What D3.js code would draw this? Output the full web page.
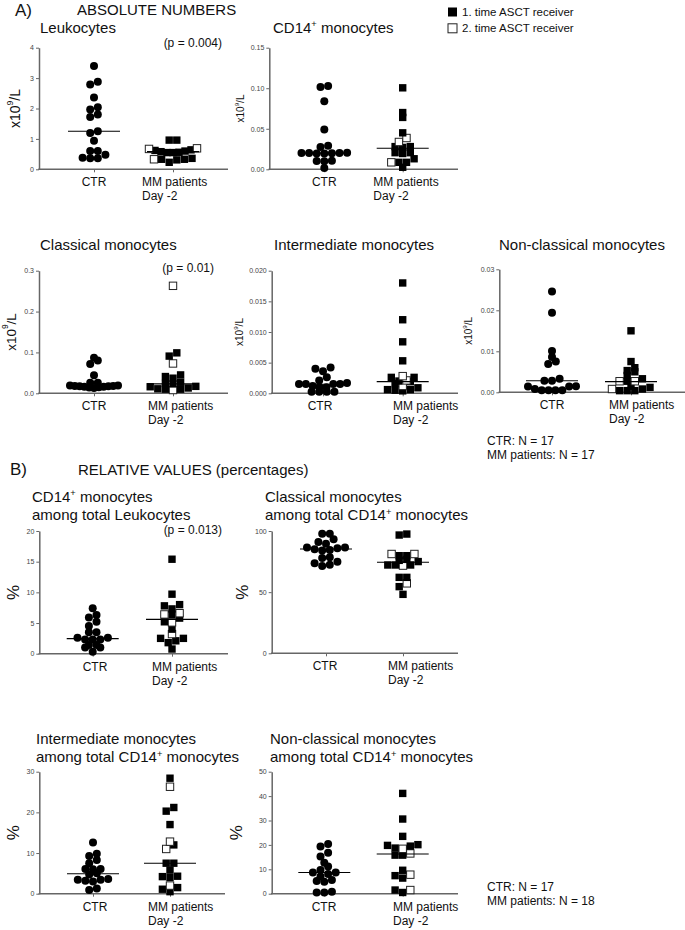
<!DOCTYPE html>
<html><head><meta charset="utf-8">
<script src="https://cdn.jsdelivr.net/npm/d3@7"></script>
<style>
body{margin:0;background:#fff}
svg{display:block}
text{font-family:"Liberation Sans",Arial,Helvetica,sans-serif;fill:#111}
</style></head>
<body><svg id="c" width="685" height="930"></svg>
<script>
// ---------------- DATA ----------------
const groups = ["CTR", "MM patients"];
const groupLine2 = "Day -2";

// A) absolute numbers
const leukoTicks = [0, 1, 2, 3, 4];
const leukoCTR = [3.40, 2.88, 2.79, 2.36, 2.04, 1.97, 1.80, 1.72, 1.25, 1.19, 0.94, 0.60, 0.60, 0.48, 0.38, 0.36, 0.36];
const leukoMM1 = [0.96, 0.96, 0.64, 0.62, 0.60, 0.58, 0.56, 0.55, 0.55, 0.36, 0.33, 0.33, 0.31, 0.23];
const leukoMM2 = [0.69, 0.67, 0.33];
const leukoMedian = [1.25, 0.58];

const cd14Ticks = [0, 0.05, 0.10, 0.15];
const cd14CTR = [0.1027, 0.1015, 0.084, 0.049, 0.029, 0.0275, 0.0205, 0.0202, 0.0200, 0.0200, 0.0198, 0.0196, 0.0195, 0.0105, 0.0102, 0.0098, 0.0015];
const cd14MM1 = [0.1005, 0.070, 0.064, 0.045, 0.028, 0.028, 0.027, 0.0205, 0.0205, 0.0195, 0.013, 0.0086, 0.0086, 0.0025];
const cd14MM2 = [0.0386, 0.0337, 0.0086];
const cd14Median = [0.020, 0.026];

const clasTicks = [0, 0.1, 0.2, 0.3];
const clasCTR = [0.087, 0.080, 0.072, 0.044, 0.026, 0.026, 0.019, 0.019, 0.018, 0.018, 0.017, 0.017, 0.016, 0.016, 0.015, 0.014, 0.013];
const clasMM1 = [0.099, 0.091, 0.045, 0.041, 0.037, 0.027, 0.024, 0.023, 0.017, 0.016, 0.013, 0.011, 0.010, 0.010];
const clasMM2 = [0.263, 0.073, 0.008];
const clasMedian = [0.017, 0.023];

const interTicks = [0, 0.005, 0.010, 0.015, 0.020];
const interCTR = [0.0042, 0.0040, 0.0036, 0.0026, 0.0021, 0.0017, 0.0015, 0.0015, 0.0015, 0.0015, 0.0012, 0.0010, 0.0010, 0.00025, 0.00025, 0.00025, 0.00025];
const interMM1 = [0.018, 0.012, 0.0084, 0.0053, 0.0026, 0.0026, 0.0020, 0.0019, 0.0016, 0.0009, 0.0006, 0.0006, 0.0005, 0.0004];
const interMM2 = [0.0028, 0.0021, 0.0012];
const interMedian = [0.00147, 0.0019];

const nonTicks = [0, 0.01, 0.02, 0.03];
const nonCTR = [0.0246, 0.0194, 0.0101, 0.0086, 0.0075, 0.0069, 0.0033, 0.0028, 0.0028, 0.0015, 0.0014, 0.0014, 0.0008, 0.0005, 0.0005, 0.0005, 0.0005];
const nonMM1 = [0.015, 0.0075, 0.006, 0.0053, 0.005, 0.0041, 0.0033, 0.0027, 0.0015, 0.0012, 0.0008, 0.0004, 0.0004, 0.0004];
const nonMM2 = [0.0027, 0.0027, 0.0008];
const nonMedian = [0.0028, 0.0026];

// B) relative values (percentages)
const leuPctTicks = [0, 5, 10, 15, 20];
const leuPctCTR = [7.4, 6.3, 5.9, 5.2, 4.5, 3.5, 3.5, 2.6, 2.6, 2.3, 2.3, 2.3, 1.4, 1.4, 1.0, 1.0, 0.3];
const leuPctMM1 = [15.4, 9.7, 8.0, 7.8, 7.3, 6.4, 5.8, 5.2, 4.0, 2.5, 2.5, 2.1, 1.8, 0.76];
const leuPctMM2 = [6.6, 6.4, 5.1, 3.2];
const leuPctMedian = [2.45, 5.6];

const clasPctTicks = [0, 50, 100];
const clasPctCTR = [97.8, 97.8, 93.2, 91.0, 89.6, 86.6, 86.6, 85.8, 85.0, 84.5, 84.0, 78.5, 78.0, 74.8, 73.6, 72.5, 71.4];
const clasPctMM1 = [97.5, 96.7, 79.8, 79.8, 76.8, 76.0, 75.0, 72.2, 72.2, 72.2, 62.1, 62.1, 54.5, 48.2];
const clasPctMM2 = [81.2, 81.2, 71.7, 57.2];
const clasPctMedian = [85.3, 74.4];

const interPctTicks = [0, 10, 20, 30];
const interPctCTR = [12.6, 9.8, 9.3, 8.3, 7.5, 6.1, 6.1, 6.0, 5.0, 4.7, 3.6, 3.4, 3.4, 3.2, 3.0, 1.3, 0.9];
const interPctMM1 = [28.4, 21.2, 20.3, 17.0, 12.0, 7.5, 7.5, 5.8, 4.3, 4.2, 4.0, 1.5, 1.1, 0.5];
const interPctMM2 = [26.3, 12.8, 11.0, 2.0];
const interPctMedian = [4.9, 7.5];

const nonPctTicks = [0, 10, 20, 30, 40, 50];
const nonPctCTR = [20.4, 19.3, 16.8, 15.2, 12.7, 11.1, 9.7, 8.7, 8.7, 8.1, 7.0, 5.6, 5.2, 4.9, 0.8, 0.5, 0.5];
const nonPctMM1 = [41.1, 30.6, 23.5, 20.1, 19.8, 19.5, 18.7, 15.8, 15.8, 9.6, 7.4, 6.4, 1.5, 0.5];
const nonPctMM2 = [18.4, 16.5, 7.8, 1.5];
const nonPctMedian = [8.7, 16.3];

const legendLabels = ["1. time ASCT receiver", "2. time ASCT receiver"];

// ---------------- LAYOUT ----------------
const svg = d3.select("#c");
const AX = "#666";

function rich(t, str, size) {
  const parts = str.split(/(\^.)/);
  let up = false;
  parts.forEach(p => {
    if (!p) return;
    if (p[0] === "^") {
      t.append("tspan").text(p[1]).style("font-size", (size * 0.62) + "px").attr("dy", -size * 0.38);
      up = true;
    } else {
      const ts = t.append("tspan").text(p);
      if (up) { ts.attr("dy", size * 0.38); up = false; }
    }
  });
}

function swarm(items, y, thr, d, maxW) {
  const s = items.map(o => ({ ...o, py: y(o.v) }))
    .sort((a, b) => (b.py - a.py) || (a.open - b.open));
  const rows = []; let cur = null;
  s.forEach(o => {
    if (!cur || cur[0].py - o.py > thr) { cur = [o]; rows.push(cur); } else cur.push(o);
  });
  rows.forEach(r => {
    const n = r.length;
    const sp = n > 1 ? Math.min(d, maxW / (n - 1)) : 0;
    const pos = [];
    if (n % 2) { pos.push(0); for (let k = 1; pos.length < n; k++) { pos.push(-k * sp); if (pos.length < n) pos.push(k * sp); } }
    else { for (let k = 0; pos.length < n; k++) { pos.push(-(k + 0.5) * sp); pos.push((k + 0.5) * sp); } }
    r.forEach((o, i) => o.dx = pos[i]);
  });
  return s;
}

const panels = [
  { ctr: leukoCTR, mm1: leukoMM1, mm2: leukoMM2, med: leukoMedian, ticks: leukoTicks, fmt: d3.format("d"),
    axisX: 39, axisEnd: 228, yTop: 47.7, yBot: 169.3, ctrX: 94, mmX: 173, ctrLab: 94, mmLab: 142,
    title: ["Leukocytes"], tx: 40, ty: 33, ylab: "x10^9/L", ylx: 15, yls: 14, p: "(p = 0.004)", px: 222, py: 47 },
  { ctr: cd14CTR, mm1: cd14MM1, mm2: cd14MM2, med: cd14Median, ticks: cd14Ticks, fmt: d3.format(".2f"),
    axisX: 269.3, axisEnd: 458, yTop: 47.7, yBot: 169.3, ctrX: 324.3, mmX: 402.7, ctrLab: 324.3, mmLab: 373.3,
    title: ["CD14^+ monocytes"], tx: 273, ty: 33, ylab: "x10^9/L", ylx: 240, yls: 10 },
  { ctr: clasCTR, mm1: clasMM1, mm2: clasMM2, med: clasMedian, ticks: clasTicks, fmt: d3.format(".1f"),
    axisX: 39, axisEnd: 228, yTop: 270.7, yBot: 393.3, ctrX: 94, mmX: 173, ctrLab: 94, mmLab: 148,
    title: ["Classical monocytes"], tx: 40, ty: 250, ylab: "x10^9/L", ylx: 10.5, yls: 13.5, p: "(p = 0.01)", px: 214, py: 272 },
  { ctr: interCTR, mm1: interMM1, mm2: interMM2, med: interMedian, ticks: interTicks, fmt: d3.format(".3f"),
    axisX: 271.7, axisEnd: 458, yTop: 270.7, yBot: 393.3, ctrX: 323, mmX: 402.7, ctrLab: 320, mmLab: 393,
    title: ["Intermediate monocytes"], tx: 274, ty: 250, ylab: "x10^9/L", ylx: 239, yls: 10 },
  { ctr: nonCTR, mm1: nonMM1, mm2: nonMM2, med: nonMedian, ticks: nonTicks, fmt: d3.format(".2f"),
    axisX: 499.3, axisEnd: 685, yTop: 269.3, yBot: 392.3, ctrX: 552, mmX: 631, ctrLab: 552, mmLab: 609,
    title: ["Non-classical monocytes"], tx: 499, ty: 250, ylab: "x10^9/L", ylx: 468, yls: 10 },
  { ctr: leuPctCTR, mm1: leuPctMM1, mm2: leuPctMM2, med: leuPctMedian, ticks: leuPctTicks, fmt: d3.format("d"),
    axisX: 39.3, axisEnd: 228, yTop: 531, yBot: 653.7, ctrX: 92.7, mmX: 172, ctrLab: 95, mmLab: 152,
    title: ["CD14^+ monocytes", "among total Leukocytes"], tx: 32, ty: 502, ylab: "%", ylx: 12.5, yls: 17, p: "(p = 0.013)", px: 222, py: 534 },
  { ctr: clasPctCTR, mm1: clasPctMM1, mm2: clasPctMM2, med: clasPctMedian, ticks: clasPctTicks, fmt: d3.format("d"),
    axisX: 271.7, axisEnd: 458, yTop: 531, yBot: 653.3, ctrX: 326, mmX: 403, ctrLab: 325, mmLab: 388,
    title: ["Classical monocytes", "among total CD14^+ monocytes"], tx: 265, ty: 502, ylab: "%", ylx: 242, yls: 17 },
  { ctr: interPctCTR, mm1: interPctMM1, mm2: interPctMM2, med: interPctMedian, ticks: interPctTicks, fmt: d3.format("d"),
    axisX: 39.3, axisEnd: 225, yTop: 771.7, yBot: 893.7, ctrX: 93, mmX: 170, ctrLab: 95, mmLab: 148,
    title: ["Intermediate monocytes", "among total CD14^+ monocytes"], tx: 36, ty: 744, ylab: "%", ylx: 13, yls: 17 },
  { ctr: nonPctCTR, mm1: nonPctMM1, mm2: nonPctMM2, med: nonPctMedian, ticks: nonPctTicks, fmt: d3.format("d"),
    axisX: 271.7, axisEnd: 458, yTop: 771.7, yBot: 893.7, ctrX: 324.3, mmX: 402.7, ctrLab: 324, mmLab: 393,
    title: ["Non-classical monocytes", "among total CD14^+ monocytes"], tx: 270, ty: 744, ylab: "%", ylx: 236, yls: 17 }
];

function drawPanel(p) {
  const g = svg.append("g");
  const y = d3.scaleLinear().domain([p.ticks[0], p.ticks[p.ticks.length - 1]]).range([p.yBot, p.yTop]);
  const x = d3.scalePoint().domain(groups).range([p.ctrX, p.mmX]);

  // y axis
  const ya = g.append("g").attr("transform", `translate(${p.axisX},0)`)
    .call(d3.axisLeft(y).tickValues(p.ticks).tickFormat(p.fmt).tickSize(3).tickSizeOuter(0).tickPadding(2));
  ya.select(".domain").attr("stroke", AX).attr("stroke-width", 1.5);
  ya.selectAll(".tick line").attr("stroke", AX).attr("stroke-width", 1);
  ya.selectAll(".tick text").style("font-size", "7px").style("fill", "#444").style("font-family", '"Liberation Sans",Arial,sans-serif');

  // x axis
  const xa = g.append("g").attr("transform", `translate(0,${p.yBot})`)
    .call(d3.axisBottom(x).tickSize(3).tickSizeOuter(0).tickFormat(""));
  xa.select(".domain").remove();
  xa.selectAll(".tick line").attr("stroke", AX).attr("stroke-width", 1);
  g.append("line").attr("x1", p.axisX - 0.75).attr("x2", p.axisEnd).attr("y1", p.yBot).attr("y2", p.yBot)
    .attr("stroke", AX).attr("stroke-width", 1.5);

  // x labels
  g.append("text").attr("x", p.ctrLab).attr("y", p.yBot + 17).attr("text-anchor", "middle").style("font-size", "12px").text(groups[0]);
  g.append("text").attr("x", p.mmLab).attr("y", p.yBot + 17).style("font-size", "12px").text(groups[1]);
  g.append("text").attr("x", p.mmLab).attr("y", p.yBot + 31).style("font-size", "12px").text(groupLine2);

  // title
  p.title.forEach((t, i) => {
    const tt = g.append("text").attr("x", p.tx).attr("y", p.ty + i * 18.3).style("font-size", "15px");
    rich(tt, t, 15);
  });
  if (p.p) g.append("text").attr("x", p.px).attr("y", p.py).attr("text-anchor", "end").style("font-size", "12px").text(p.p);

  // y label
  const yl = g.append("text").attr("transform", `translate(${p.ylx},${(p.yTop + p.yBot) / 2}) rotate(-90)`)
    .attr("text-anchor", "middle").attr("dominant-baseline", "central").style("font-size", p.yls + "px");
  rich(yl, p.ylab, p.yls);

  // points
  const thr = 4.5, dd = 7.6, maxW = 48;
  const ctrPts = swarm(p.ctr.map(v => ({ v, open: 0 })), y, thr, dd, maxW);
  g.selectAll(".c").data(ctrPts).join("circle")
    .attr("cx", d => x(groups[0]) + d.dx).attr("cy", d => d.py).attr("r", 4).attr("fill", "#000");
  const mmItems = p.mm1.map(v => ({ v, open: 0 })).concat(p.mm2.map(v => ({ v, open: 1 })));
  const mmPts = swarm(mmItems, y, thr, dd, maxW);
  const s = 7.4;
  g.selectAll(".s").data(mmPts).join("rect")
    .attr("x", d => x(groups[1]) + d.dx - s / 2).attr("y", d => d.py - s / 2).attr("width", s).attr("height", s)
    .attr("fill", d => d.open ? "#fff" : "#000").attr("stroke", d => d.open ? "#222" : "none").attr("stroke-width", 1);

  // medians
  g.selectAll(".m").data(p.med).join("line")
    .attr("x1", (d, i) => x(groups[i]) - 26).attr("x2", (d, i) => x(groups[i]) + 26)
    .attr("y1", d => y(d)).attr("y2", d => y(d)).attr("stroke", "#000").attr("stroke-width", 1.1);
}

panels.forEach(drawPanel);

// headers
svg.append("text").attr("x", 15).attr("y", 16).style("font-size", "17px").text("A)");
svg.append("text").attr("x", 77).attr("y", 15).style("font-size", "15px").text("ABSOLUTE NUMBERS");
svg.append("text").attr("x", 10).attr("y", 475).style("font-size", "17px").text("B)");
svg.append("text").attr("x", 78).attr("y", 475).style("font-size", "15px").text("RELATIVE VALUES (percentages)");

// legend
const lg = svg.append("g");
legendLabels.forEach((t, i) => {
  lg.append("rect").attr("x", 448).attr("y", 7.5 + i * 16.3).attr("width", 9).attr("height", 9)
    .attr("fill", i ? "#fff" : "#000").attr("stroke", "#222").attr("stroke-width", i ? 1 : 0);
  lg.append("text").attr("x", 462).attr("y", 15.7 + i * 16.3).style("font-size", "11.5px").text(t);
});

// footnotes
const notes = [["CTR: N = 17", "MM patients: N = 17", 445], ["CTR: N = 17", "MM patients: N = 18", 891]];
notes.forEach(n => {
  svg.append("text").attr("x", 487).attr("y", n[2]).style("font-size", "12px").text(n[0]);
  svg.append("text").attr("x", 487).attr("y", n[2] + 14).style("font-size", "12px").text(n[1]);
});
</script>
</body></html>
